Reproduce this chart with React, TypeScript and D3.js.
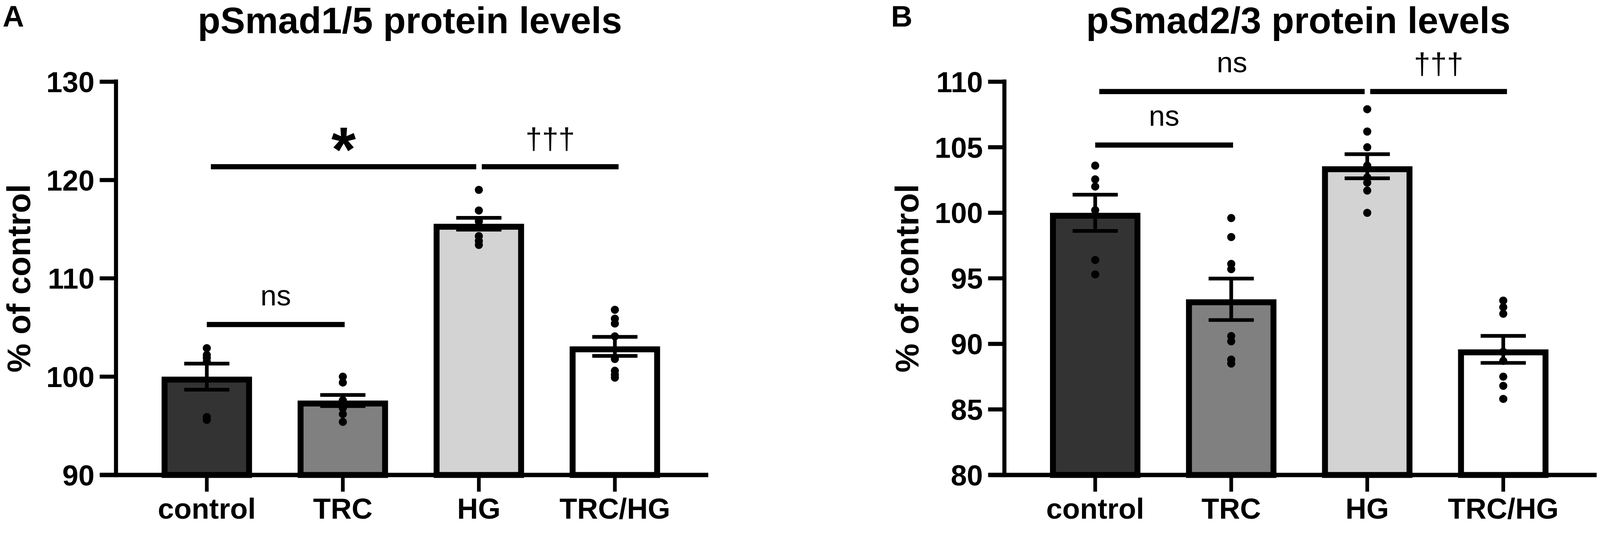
import * as d3 from 'd3'

// groups on the x axis
const categories = ['control', 'TRC', 'HG', 'TRC/HG']
const barFills = ['#333333', '#808080', '#d3d3d3', '#ffffff']

// panel A: pSmad1/5
const titleA = 'pSmad1/5 protein levels'
const ticksA = [90, 100, 110, 120, 130]
const meansA = [100, 97.57, 115.55, 103.08]
const semsA = [1.33, 0.57, 0.6, 0.97]
const pointsA = [
  [102.9, 102.2, 101.9, 101.5, 95.9, 95.6],
  [100.0, 99.4, 97.6, 96.8, 96.2, 95.4],
  [119.0, 116.9, 115.8, 114.3, 113.8, 113.4],
  [106.8, 105.9, 105.4, 104.1, 101.8, 100.6, 100.2, 99.9],
]
const sigA = [
  { from: 0, to: 1, level: 105.3, label: 'ns' },
  { from: 0, to: 2, level: 121.35, label: '*' },
  { from: 2, to: 3, level: 121.35, label: '†††' },
]

// panel B: pSmad2/3
const titleB = 'pSmad2/3 protein levels'
const ticksB = [80, 85, 90, 95, 100, 105, 110]
const meansB = [100, 93.4, 103.55, 89.58]
const semsB = [1.38, 1.58, 0.92, 1.03]
const pointsB = [
  [103.6, 102.55, 102.0, 100.2, 96.4, 95.3],
  [99.6, 98.15, 96.1, 95.7, 90.6, 90.2, 88.8, 88.5],
  [107.9, 106.2, 105.0, 103.6, 102.7, 102.3, 101.7, 100.0],
  [93.3, 92.8, 92.3, 89.4, 88.7, 87.5, 86.8, 85.8],
]
const sigB = [
  { from: 0, to: 1, level: 105.17, label: 'ns' },
  { from: 0, to: 2, level: 109.25, label: 'ns' },
  { from: 2, to: 3, level: 109.25, label: '†††' },
]

const W = 4317
const H = 1421
const FONT = '"Liberation Sans", Arial, Helvetica, sans-serif'

interface Sig { from: number; to: number; level: number; label: string }

interface PanelProps {
  left: number
  letter: string
  title: string
  ticks: number[]
  means: number[]
  sems: number[]
  points: number[][]
  sig: Sig[]
}

function Panel({ left, letter, title, ticks, means, sems, points, sig }: PanelProps) {
  const y = d3.scaleLinear()
    .domain([ticks[0], ticks[ticks.length - 1]])
    .range([1281.7, 220.5])
  const first = left + 245
  const x = d3.scalePoint<string>()
    .domain(categories)
    .range([first, first + 3 * 367])
  const xEnd = first + 3 * 367 + 252
  const y0 = y(ticks[0])
  const barW = 244
  const sw = 16
  const capW = 122

  const cx = (i: number) => x(categories[i]) as number

  return (
    <g>
      <text x={left - 306} y={72} fontFamily={FONT} fontWeight="bold" fontSize={80}>{letter}</text>
      <text x={(left + xEnd) / 2 - 6} y={90} textAnchor="middle" fontFamily={FONT} fontWeight="bold" fontSize={100}>{title}</text>

      {/* bars */}
      {categories.map((c, i) => {
        const top = y(means[i])
        return (
          <rect key={c}
            x={cx(i) - barW / 2 + sw / 2}
            y={top + sw / 2}
            width={barW - sw}
            height={y0 - top - sw / 2}
            fill={barFills[i]} stroke="#000" strokeWidth={sw} />
        )
      })}

      {/* error bars (mean ± SEM) */}
      {categories.map((c, i) => {
        const hi = y(means[i] + sems[i])
        const lo = y(means[i] - sems[i])
        return (
          <g key={c} stroke="#000" strokeWidth={10}>
            <line x1={cx(i)} x2={cx(i)} y1={hi} y2={lo} />
            <line x1={cx(i) - capW / 2} x2={cx(i) + capW / 2} y1={hi} y2={hi} />
            <line x1={cx(i) - capW / 2} x2={cx(i) + capW / 2} y1={lo} y2={lo} />
          </g>
        )
      })}

      {/* individual points */}
      {points.map((arr, i) => arr.map((v, j) => (
        <circle key={`${i}-${j}`} cx={cx(i)} cy={y(v)} r={11} fill="#000" />
      )))}

      {/* y axis */}
      <line x1={left} x2={left} y1={y(ticks[ticks.length - 1]) - 6} y2={y0 + 6} stroke="#000" strokeWidth={11} />
      {ticks.map(t => (
        <g key={t}>
          <line x1={left - 44} x2={left} y1={y(t)} y2={y(t)} stroke="#000" strokeWidth={11} />
          <text x={left - 58} y={y(t)} dy="0.36em" textAnchor="end" fontFamily={FONT} fontWeight="bold" fontSize={78}>{t}</text>
        </g>
      ))}
      <text transform={`translate(${left - 232},751) rotate(-90)`} textAnchor="middle" fontFamily={FONT} fontWeight="bold" fontSize={88}>% of control</text>

      {/* x axis */}
      <line x1={left - 43} x2={xEnd} y1={y0} y2={y0} stroke="#000" strokeWidth={12} />
      {categories.map((c, i) => (
        <g key={c}>
          <line x1={cx(i)} x2={cx(i)} y1={y0} y2={y0 + 45} stroke="#000" strokeWidth={10} />
          <text x={cx(i)} y={1400} textAnchor="middle" fontFamily={FONT} fontWeight="bold" fontSize={78}>{c}</text>
        </g>
      ))}

      {/* significance brackets */}
      {sig.map((s, k) => {
        const joinedRight = sig.some(o => o !== s && o.level === s.level && o.from === s.to)
        const joinedLeft = sig.some(o => o !== s && o.level === s.level && o.to === s.from)
        const x1 = cx(s.from) + (joinedLeft ? 8 : joinedRight ? 11 : 0)
        const x2 = cx(s.to) + (joinedRight ? -7 : joinedLeft ? 10 : 5)
        const ly = y(s.level)
        const mid = (x1 + x2) / 2
        let label
        if (s.label === '*') {
          label = <text x={mid} y={ly + 12} textAnchor="middle" fontFamily={FONT} fontWeight="bold" fontSize={170}>*</text>
        } else if (s.label === 'ns') {
          label = <text x={mid} y={ly - 52} textAnchor="middle" fontFamily={FONT} fontSize={78}>ns</text>
        } else {
          label = <text x={mid} y={ly - 48} textAnchor="middle" fontFamily={FONT} fontSize={80}>{s.label}</text>
        }
        return (
          <g key={k}>
            <line x1={x1} x2={x2} y1={ly} y2={ly} stroke="#000" strokeWidth={14} />
            {label}
          </g>
        )
      })}
    </g>
  )
}

export default function App() {
  return (
    <svg viewBox={`0 0 ${W} ${H}`} preserveAspectRatio="xMinYMin meet"
      style={{ position: 'absolute', left: 0, top: 0, width: '100%', height: 'auto', display: 'block', background: '#fff' }}>
      <rect width={W} height={H} fill="#fff" />
      <Panel left={313} letter="A" title={titleA} ticks={ticksA} means={meansA} sems={semsA} points={pointsA} sig={sigA} />
      <Panel left={2710} letter="B" title={titleB} ticks={ticksB} means={meansB} sems={semsB} points={pointsB} sig={sigB} />
    </svg>
  )
}
